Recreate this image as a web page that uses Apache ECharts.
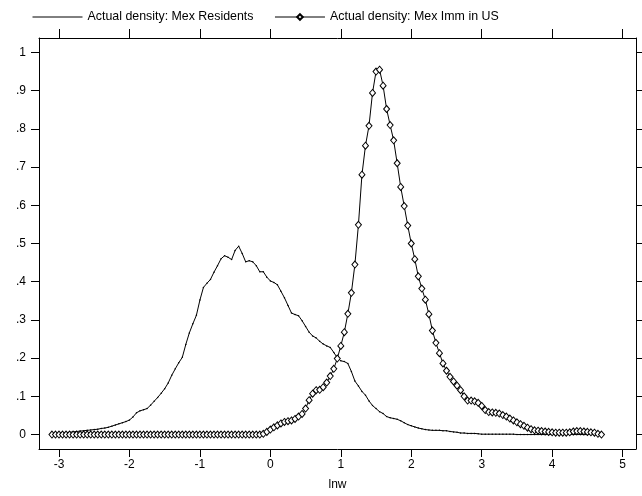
<!DOCTYPE html>
<html>
<head>
<meta charset="utf-8">
<script src="https://cdn.jsdelivr.net/npm/echarts@6/dist/echarts.min.js"></script>
<style>
html,body{margin:0;padding:0;background:#fff;}
#chart{width:642px;height:496px;}
</style>
</head>
<body>
<div id="chart"></div>
<script>
// Evaluation grid (lnw)
var lnw = [
-3.1,-3.05,-3,-2.95,-2.9,-2.85,-2.8,-2.75,-2.7,-2.65,
-2.6,-2.55,-2.5,-2.45,-2.4,-2.35,-2.3,-2.25,-2.2,-2.15,
-2.1,-2.05,-2,-1.95,-1.9,-1.85,-1.8,-1.75,-1.7,-1.65,
-1.6,-1.55,-1.5,-1.45,-1.4,-1.35,-1.3,-1.25,-1.2,-1.15,
-1.1,-1.05,-1,-0.95,-0.9,-0.85,-0.8,-0.75,-0.7,-0.65,
-0.6,-0.55,-0.5,-0.45,-0.4,-0.35,-0.3,-0.25,-0.2,-0.15,
-0.1,-0.05,0,0.05,0.1,0.15,0.2,0.25,0.3,0.35,
0.4,0.45,0.5,0.55,0.6,0.65,0.7,0.75,0.8,0.85,
0.9,0.95,1,1.05,1.1,1.15,1.2,1.25,1.3,1.35,
1.4,1.45,1.5,1.55,1.6,1.65,1.7,1.75,1.8,1.85,
1.9,1.95,2,2.05,2.1,2.15,2.2,2.25,2.3,2.35,
2.4,2.45,2.5,2.55,2.6,2.65,2.7,2.75,2.8,2.85,
2.9,2.95,3,3.05,3.1,3.15,3.2,3.25,3.3,3.35,
3.4,3.45,3.5,3.55,3.6,3.65,3.7,3.75,3.8,3.85,
3.9,3.95,4,4.05,4.1,4.15,4.2,4.25,4.3,4.35,
4.4,4.45,4.5,4.55,4.6,4.65,4.7
];

// Actual density: Mex Residents
var mexResidents = [
0.000,0.002,0.003,0.004,0.005,0.006,0.007,0.008,0.009,0.010,
0.011,0.012,0.013,0.014,0.016,0.017,0.019,0.022,0.025,0.028,
0.031,0.034,0.038,0.046,0.057,0.062,0.065,0.068,0.077,0.087,
0.097,0.108,0.120,0.135,0.155,0.172,0.188,0.202,0.236,0.266,
0.290,0.312,0.352,0.385,0.396,0.406,0.425,0.442,0.460,0.468,
0.464,0.458,0.482,0.493,0.474,0.452,0.455,0.452,0.442,0.426,
0.426,0.412,0.402,0.398,0.392,0.375,0.358,0.338,0.318,0.314,
0.311,0.298,0.283,0.268,0.258,0.253,0.244,0.237,0.232,0.228,
0.215,0.201,0.193,0.191,0.186,0.165,0.140,0.127,0.113,0.103,
0.088,0.076,0.068,0.060,0.055,0.047,0.044,0.042,0.040,0.036,
0.031,0.026,0.023,0.020,0.017,0.015,0.013,0.012,0.011,0.011,
0.011,0.010,0.010,0.008,0.007,0.006,0.004,0.004,0.003,0.003,
0.003,0.002,0.001,0.001,0.001,0.001,0.001,0.001,0.001,0.001,
0.001,0.001,0.000,0.000,0.000,0.000,0.000,0.000,0.000,0.000,
0.000,0.000,0.000,0.000,0.000,0.000,0.000,0.000,0.000,0.000,
0.000,0.000,0.000,0.000,0.000,0.000,0.000
];

// Actual density: Mex Imm in US
var mexImmUS = [
0,0,0,0,0,0,0,0,0,0,
0,0,0,0,0,0,0,0,0,0,
0,0,0,0,0,0,0,0,0,0,
0,0,0,0,0,0,0,0,0,0,
0,0,0,0,0,0,0,0,0,0,
0,0,0,0,0,0,0,0,0,0,
0.002,0.007,0.013,0.019,0.024,0.029,0.033,0.035,0.037,0.041,
0.047,0.054,0.068,0.090,0.107,0.116,0.117,0.124,0.136,0.153,
0.172,0.199,0.232,0.268,0.316,0.371,0.445,0.549,0.680,0.756,
0.808,0.894,0.950,0.955,0.913,0.852,0.810,0.770,0.710,0.648,
0.598,0.547,0.500,0.459,0.414,0.382,0.353,0.315,0.272,0.240,
0.213,0.186,0.167,0.151,0.139,0.128,0.116,0.100,0.089,0.089,
0.087,0.083,0.075,0.064,0.059,0.058,0.057,0.055,0.051,0.047,
0.042,0.037,0.032,0.027,0.023,0.018,0.014,0.011,0.010,0.009,
0.008,0.007,0.006,0.005,0.005,0.005,0.005,0.006,0.008,0.009,
0.009,0.008,0.007,0.006,0.005,0.002,0.000
];

var xTicks = [-3,-2,-1,0,1,2,3,4,5];
var yTicks = [0,0.1,0.2,0.3,0.4,0.5,0.6,0.7,0.8,0.9,1];
var seriesNames = ['Actual density: Mex Residents','Actual density: Mex Imm in US'];

function pairs(xs, ys){ return xs.map(function(x,i){ return [x, ys[i]]; }); }
function yFmt(v){
  var r = Math.round(v*10);
  if (r === 0) return '0';
  if (r === 10) return '1';
  return '.' + r;
}

var FONT = 'Liberation Sans, Arial, sans-serif';
var chart = echarts.init(document.getElementById('chart'), null, {renderer:'canvas'});
var axisLineStyle = {show:true, onZero:false, lineStyle:{color:'#000', width:1}};

var option = {
  animation:false,
  backgroundColor:'#fff',
  textStyle:{fontFamily:FONT, color:'#000'},
  legend:{
    left:32, top:11, padding:0,
    itemWidth:50, itemHeight:7, itemGap:21,
    lineStyle:{width:1},
    textStyle:{fontFamily:FONT, fontSize:12.4, color:'#000'},
    data:[
      {name:seriesNames[0], itemStyle:{color:'rgba(0,0,0,0)', borderWidth:0}},
      {name:seriesNames[1]}
    ]
  },
  grid:{left:39, right:6, top:38, bottom:45, containLabel:false},
  xAxis:[{
    type:'value', position:'bottom', min:-3.284, max:5.19,
    axisLine:axisLineStyle,
    axisTick:{show:true, inside:false, length:8, customValues:xTicks, lineStyle:{color:'#000'}},
    axisLabel:{show:true, customValues:xTicks, margin:10, fontSize:12, color:'#000', fontFamily:FONT},
    splitLine:{show:false},
    name:'lnw', nameLocation:'middle', nameGap:30,
    nameTextStyle:{fontSize:12, color:'#000', fontFamily:FONT}
  },{
    type:'value', position:'top', min:-3.284, max:5.19,
    axisLine:axisLineStyle,
    axisTick:{show:true, inside:false, length:9, customValues:xTicks, lineStyle:{color:'#000'}},
    axisLabel:{show:false},
    splitLine:{show:false}
  }],
  yAxis:[{
    type:'value', position:'left', min:-0.0378, max:1.0378,
    axisLine:axisLineStyle,
    axisTick:{show:true, inside:false, length:8, customValues:yTicks, lineStyle:{color:'#000'}},
    axisLabel:{show:true, customValues:yTicks, margin:13, fontSize:12, color:'#000', fontFamily:FONT, formatter:yFmt},
    splitLine:{show:false}
  },{
    type:'value', position:'right', min:-0.0378, max:1.0378,
    axisLine:axisLineStyle,
    axisTick:{show:true, inside:false, length:6, customValues:yTicks, lineStyle:{color:'#000'}},
    axisLabel:{show:false},
    splitLine:{show:false}
  }],
  series:[{
    name:seriesNames[0], type:'line',
    xAxisIndex:0, yAxisIndex:0,
    data:pairs(lnw, mexResidents),
    symbol:'circle', symbolSize:1.5, showSymbol:true, showAllSymbol:true,
    itemStyle:{color:'#000'},
    lineStyle:{color:'#000', width:1},
    emphasis:{disabled:true}, silent:true
  },{
    name:seriesNames[1], type:'line',
    xAxisIndex:0, yAxisIndex:0,
    data:pairs(lnw, mexImmUS),
    symbol:'diamond', symbolSize:[6,7], showSymbol:true, showAllSymbol:true,
    itemStyle:{color:'#fff', borderColor:'#000', borderWidth:1},
    lineStyle:{color:'#000', width:1},
    emphasis:{disabled:true}, silent:true
  }]
};
chart.setOption(option);
</script>
</body>
</html>
